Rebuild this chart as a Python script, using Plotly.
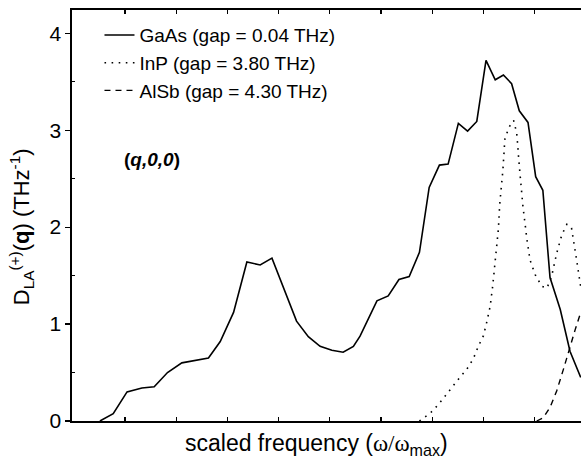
import plotly.graph_objects as go

# Scaled frequency (omega/omega_max) and D_LA^(+)(q) in THz^-1
gaas_x = [0.051, 0.077, 0.104, 0.133, 0.157, 0.183, 0.211, 0.263, 0.286, 0.312,
          0.338, 0.364, 0.387, 0.435, 0.458, 0.481, 0.504, 0.526, 0.546, 0.559,
          0.592, 0.614, 0.635, 0.655, 0.675, 0.694, 0.714, 0.731, 0.751, 0.769,
          0.787, 0.805, 0.823, 0.839, 0.855, 0.870, 0.887, 0.902, 0.916, 0.930,
          0.950, 0.969, 0.990]
gaas_y = [0.0, 0.076, 0.30, 0.34, 0.354, 0.50, 0.60, 0.65, 0.82, 1.12,
          1.64, 1.61, 1.68, 1.03, 0.87, 0.77, 0.73, 0.71, 0.77, 0.875,
          1.24, 1.29, 1.46, 1.49, 1.74, 2.41, 2.64, 2.65, 3.07, 2.99,
          3.09, 3.72, 3.52, 3.57, 3.48, 3.20, 3.08, 2.52, 2.38, 1.48,
          1.15, 0.72, 0.45]

inp_x = [0.675, 0.680, 0.696, 0.712, 0.725, 0.738, 0.754, 0.767, 0.780, 0.790,
         0.800, 0.806, 0.813, 0.818, 0.823, 0.829, 0.832, 0.838, 0.842, 0.851,
         0.859, 0.865, 0.870, 0.877, 0.885, 0.891, 0.901, 0.914, 0.924, 0.933,
         0.943, 0.953, 0.963, 0.972, 0.982, 0.990]
inp_y = [0.0, 0.02, 0.08, 0.17, 0.26, 0.34, 0.45, 0.53, 0.64, 0.77,
         0.88, 1.01, 1.18, 1.39, 1.63, 1.97, 2.25, 2.59, 2.92, 3.04,
         3.10, 2.97, 2.63, 2.22, 1.87, 1.66, 1.51, 1.39, 1.37, 1.49,
         1.73, 1.92, 2.03, 1.99, 1.66, 1.38]

alsb_x = [0.904, 0.917, 0.930, 0.943, 0.956, 0.969, 0.979, 0.990]
alsb_y = [0.0, 0.035, 0.14, 0.31, 0.53, 0.77, 0.94, 1.12]

names = ["GaAs (gap = 0.04 THz)", "InP (gap = 3.80 THz)", "AlSb (gap = 4.30 THz)"]
y_ticks = [0, 1, 2, 3, 4]
x_ticks = [0.1, 0.2, 0.3, 0.4, 0.5, 0.6, 0.7, 0.8, 0.9]

FONT = "Liberation Sans, Arial, sans-serif"
BLACK = "black"

fig = go.Figure()
fig.add_trace(go.Scatter(x=gaas_x, y=gaas_y, mode="lines", name=names[0],
                         line=dict(color=BLACK, width=1.6)))
fig.add_trace(go.Scatter(x=inp_x, y=inp_y, mode="lines", name=names[1],
                         line=dict(color=BLACK, width=1.6, dash="1.6px,5.5px")))
fig.add_trace(go.Scatter(x=alsb_x, y=alsb_y, mode="lines", name=names[2],
                         line=dict(color=BLACK, width=1.4, dash="6px,5px")))

# panel label
fig.add_annotation(x=0.153, y=2.70, xref="x", yref="y",
                   text="<b>(<i>q,0,0</i>)</b>", showarrow=False,
                   font=dict(family=FONT, size=19, color=BLACK))
# y-axis title
fig.add_annotation(x=-0.100, y=2.0, xref="paper", yref="y", textangle=-90,
                   xanchor="center", yanchor="middle", showarrow=False,
                   text="D<sub>LA</sub><sup>(+)</sup>(<b>q</b>) (THz<sup>-1</sup>)",
                   font=dict(family=FONT, size=22, color=BLACK))
# x-axis title
fig.add_annotation(x=0.48, y=-0.058, xref="paper", yref="paper",
                   xanchor="center", yanchor="middle", showarrow=False,
                   text="scaled frequency (<span style=\"font-family:'Liberation Serif', serif\">ω/ω</span><sub>max</sub>)",
                   font=dict(family=FONT, size=23, color=BLACK))

fig.update_layout(
    width=581, height=466,
    margin=dict(l=72, r=0, t=10, b=45, autoexpand=False),
    paper_bgcolor="white", plot_bgcolor="white",
    font=dict(family=FONT, color=BLACK),
    showlegend=True,
    legend=dict(x=0.054, y=0.985, xanchor="left", yanchor="top",
                bgcolor="rgba(0,0,0,0)", borderwidth=0,
                font=dict(family=FONT, size=19, color=BLACK),
                tracegroupgap=0, itemwidth=30),
    xaxis=dict(range=[-0.0035, 0.9905], tickvals=x_ticks, showticklabels=False,
               ticks="inside", ticklen=4, tickcolor=BLACK, tickwidth=1.2,
               showline=True, linecolor=BLACK, linewidth=1.6, mirror="ticks",
               showgrid=False, zeroline=False, automargin=False),
    yaxis=dict(range=[0, 4.24], tickvals=y_ticks, ticktext=[str(v) for v in y_ticks],
               ticks="outside", ticklen=5, tickcolor=BLACK, tickwidth=1.2,
               tickfont=dict(family=FONT, size=21, color=BLACK),
               minor=dict(tickvals=[0.5, 1.5, 2.5, 3.5], ticks="inside", ticklen=3,
                          tickcolor=BLACK, tickwidth=1),
               showline=True, linecolor=BLACK, linewidth=1.6, mirror=False,
               showgrid=False, zeroline=False, automargin=False),
)

# remove the default 8px page margin so the figure sits at the window origin
fig.write_html("out.html",
               config={"displayModeBar": False, "staticPlot": True},
               post_script="document.body.style.margin='0';document.body.style.overflow='hidden';")
